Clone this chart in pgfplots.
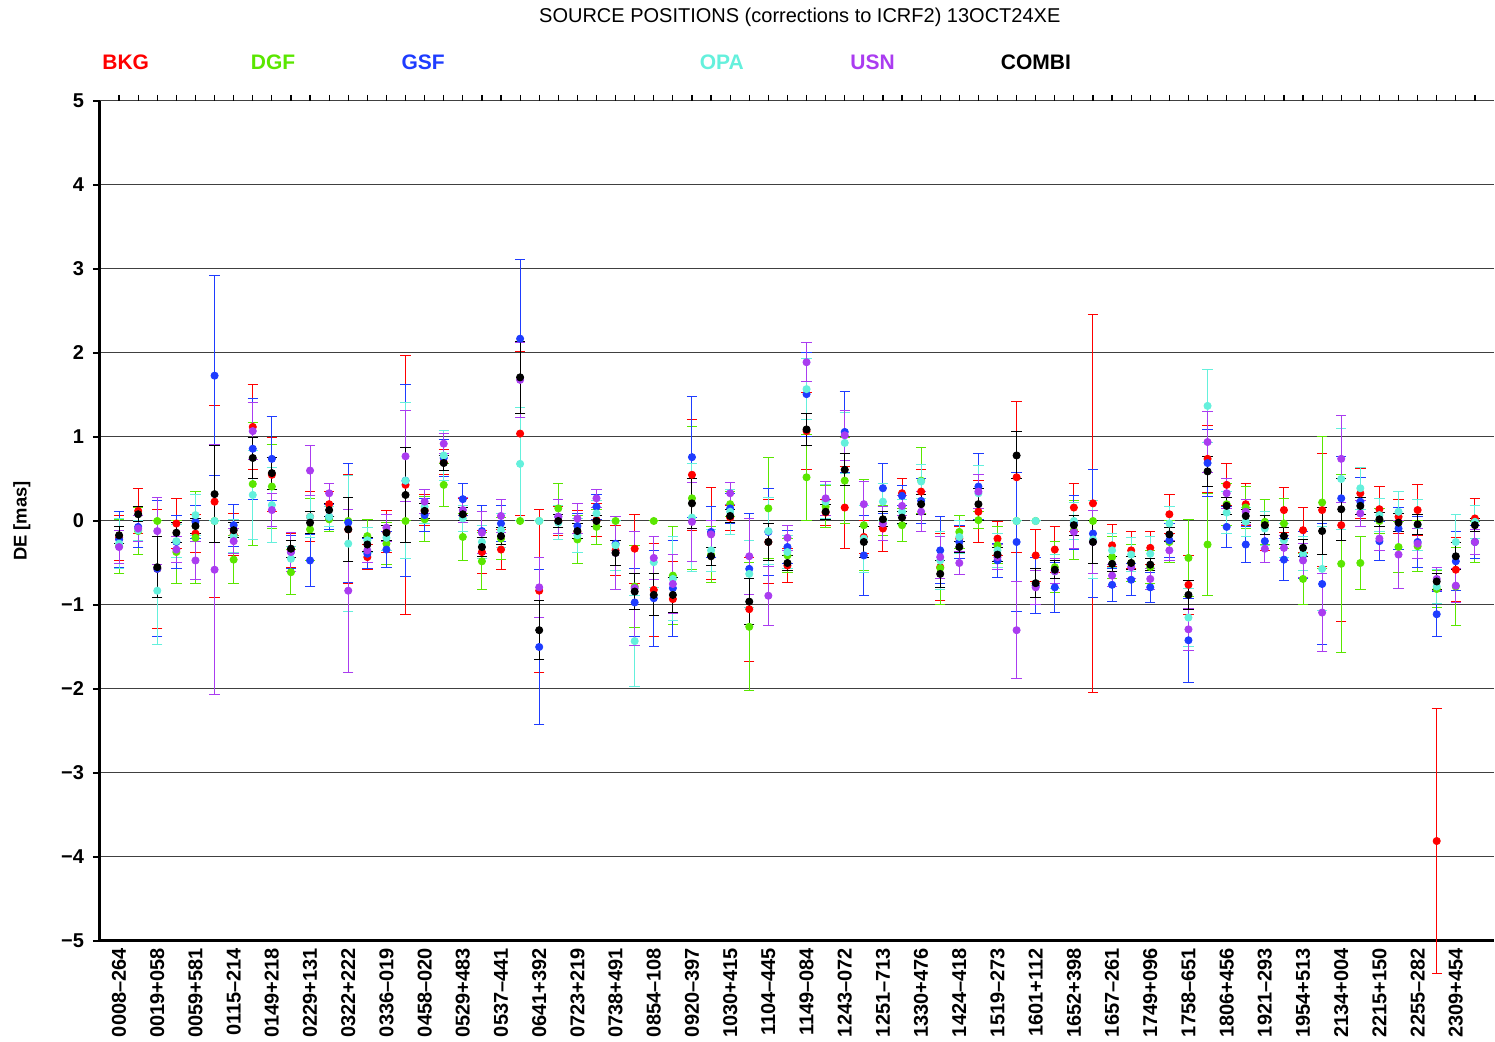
\documentclass[border=0pt]{standalone}
\usepackage{fontspec}
\setmainfont{Liberation Sans}
\usepackage{pgfplots}
\pgfplotsset{compat=1.18}
\usepackage{pgfplotstable}

\definecolor{cBKG}{RGB}{255,0,0}
\definecolor{cDGF}{RGB}{90,230,0}
\definecolor{cGSF}{RGB}{30,60,255}
\definecolor{cOPA}{RGB}{100,240,220}
\definecolor{cUSN}{RGB}{170,60,240}

% x = source index, y = correction [mas], e = formal error
\pgfplotstableread{
x y e
0 -0.20 0.27
1 0.12 0.27
2 -0.57 0.71
3 -0.03 0.30
4 -0.15 0.23
5 0.23 1.14
6 -0.16 0.25
7 1.12 0.51
8 0.55 0.44
9 -0.35 0.20
10 0.05 0.30
11 0.20 0.15
12 -0.10 0.65
13 -0.43 0.15
14 -0.13 0.25
15 0.43 1.54
16 0.13 0.18
17 0.70 0.15
18 0.07 0.20
19 -0.37 0.26
20 -0.34 0.24
21 1.04 0.98
22 -0.83 0.97
23 0.00 0.17
24 -0.13 0.25
25 0.01 0.20
26 -0.35 0.30
27 -0.33 0.41
28 -0.82 0.55
29 -0.93 0.45
30 0.55 0.66
31 -0.15 0.55
32 0.04 0.15
33 -1.05 0.62
34 -0.25 0.50
35 -0.53 0.20
36 1.07 0.46
37 0.10 0.15
38 0.16 0.49
39 -0.19 0.20
40 -0.09 0.27
41 0.33 0.18
42 0.35 0.26
43 -0.55 0.40
44 -0.21 0.15
45 0.11 0.37
46 -0.21 0.20
47 0.52 0.90
48 -0.41 0.31
49 -0.34 0.27
50 0.16 0.29
51 0.21 2.25
52 -0.29 0.25
53 -0.35 0.22
54 -0.32 0.20
55 0.08 0.23
56 -0.76 0.35
57 0.74 0.40
58 0.43 0.25
59 0.20 0.25
60 -0.05 0.30
61 0.13 0.27
62 -0.11 0.27
63 0.13 0.67
64 -0.05 1.15
65 0.33 0.30
66 0.14 0.27
67 0.05 0.20
68 0.13 0.30
69 -3.81 1.58
70 -0.58 0.38
71 0.03 0.24
}\bkg

\pgfplotstableread{
x y e
0 -0.30 0.32
1 -0.12 0.28
2 0.00 0.00
3 -0.37 0.37
4 -0.20 0.55
5 0.00 0.00
6 -0.46 0.29
7 0.44 0.73
8 0.41 0.50
9 -0.61 0.27
10 -0.10 0.37
11 0.02 0.15
12 0.00 0.00
13 -0.18 0.20
14 -0.27 0.25
15 0.00 0.00
16 0.02 0.27
17 0.43 0.26
18 -0.19 0.28
19 -0.48 0.34
20 -0.21 0.25
21 0.00 0.00
22 0.00 0.00
23 0.15 0.30
24 -0.22 0.29
25 -0.07 0.21
26 0.00 0.00
27 -0.78 0.49
28 0.00 0.00
29 -0.65 0.58
30 0.27 0.85
31 -0.40 0.33
32 0.20 0.15
33 -1.26 0.76
34 0.15 0.60
35 -0.41 0.20
36 0.52 0.51
37 0.17 0.25
38 0.48 0.51
39 -0.05 0.54
40 0.01 0.18
41 -0.05 0.20
42 0.48 0.39
43 -0.56 0.44
44 -0.13 0.20
45 0.01 0.10
46 -0.29 0.22
47 0.00 0.00
48 0.00 0.00
49 -0.55 0.30
50 -0.11 0.35
51 0.00 0.00
52 -0.43 0.25
53 -0.50 0.22
54 -0.55 0.20
55 -0.25 0.25
56 -0.44 0.46
57 -0.28 0.61
58 0.20 0.25
59 0.16 0.25
60 -0.01 0.27
61 -0.03 0.30
62 -0.69 0.30
63 0.22 0.78
64 -0.51 1.06
65 -0.50 0.31
66 0.00 0.15
67 -0.31 0.30
68 -0.30 0.30
69 -0.81 0.22
70 -0.78 0.47
71 -0.25 0.24
}\dgf

\pgfplotstableread{
x y e
0 -0.22 0.33
1 -0.07 0.24
2 -0.57 0.81
3 -0.25 0.32
4 -0.01 0.20
5 1.73 1.19
6 -0.05 0.25
7 0.86 0.60
8 0.74 0.50
9 -0.37 0.20
10 -0.47 0.31
11 0.05 0.15
12 -0.02 0.71
13 -0.39 0.18
14 -0.34 0.21
15 0.48 1.14
16 0.07 0.20
17 0.75 0.22
18 0.26 0.19
19 -0.12 0.30
20 -0.03 0.22
21 2.17 0.94
22 -1.50 0.92
23 0.05 0.20
24 -0.06 0.15
25 0.17 0.15
26 -0.27 0.32
27 -0.97 0.40
28 -0.92 0.57
29 -0.80 0.57
30 0.76 0.72
31 -0.13 0.30
32 0.15 0.18
33 -0.57 0.66
34 -0.13 0.52
35 -0.31 0.20
36 1.51 0.50
37 0.25 0.22
38 1.06 0.48
39 -0.41 0.48
40 0.39 0.30
41 0.30 0.12
42 0.24 0.27
43 -0.35 0.40
44 -0.25 0.20
45 0.41 0.39
46 -0.47 0.20
47 -0.25 0.83
48 -0.77 0.33
49 -0.79 0.30
50 -0.02 0.32
51 -0.15 0.76
52 -0.76 0.20
53 -0.70 0.19
54 -0.79 0.18
55 -0.23 0.20
56 -1.42 0.50
57 0.69 0.40
58 -0.07 0.24
59 -0.28 0.22
60 -0.24 0.25
61 -0.46 0.25
62 -0.41 0.28
63 -0.75 0.72
64 0.27 0.50
65 0.23 0.29
66 -0.24 0.23
67 -0.09 0.25
68 -0.25 0.30
69 -1.11 0.27
70 -0.48 0.35
71 -0.25 0.20
}\gsf

\pgfplotstableread{
x y e
0 -0.27 0.30
1 -0.11 0.12
2 -0.83 0.64
3 -0.24 0.20
4 0.07 0.24
5 0.00 0.00
6 -0.18 0.20
7 0.31 0.53
8 0.19 0.45
9 -0.45 0.15
10 0.05 0.25
11 0.05 0.12
12 -0.27 0.81
13 -0.23 0.15
14 -0.20 0.15
15 0.48 0.93
16 0.17 0.20
17 0.78 0.30
18 0.03 0.15
19 -0.25 0.20
20 -0.11 0.20
21 0.68 0.67
22 0.00 0.00
23 -0.02 0.20
24 -0.17 0.20
25 0.09 0.15
26 -0.29 0.30
27 -1.43 0.54
28 -0.49 0.30
29 -0.69 0.50
30 0.04 0.64
31 -0.35 0.25
32 0.11 0.27
33 -0.63 0.40
34 -0.12 0.40
35 -0.37 0.20
36 1.57 0.36
37 0.23 0.20
38 0.93 0.36
39 -0.21 0.40
40 0.23 0.22
41 0.11 0.15
42 0.47 0.20
43 -0.47 0.35
44 -0.19 0.20
45 0.33 0.33
46 -0.35 0.20
47 0.00 0.00
48 0.00 0.00
49 -0.60 0.20
50 0.00 0.22
51 -0.22 0.46
52 -0.35 0.20
53 -0.40 0.20
54 -0.39 0.20
55 -0.03 0.20
56 -1.15 0.35
57 1.37 0.43
58 0.10 0.25
59 -0.01 0.17
60 -0.09 0.20
61 -0.23 0.20
62 -0.39 0.20
63 -0.57 0.50
64 0.50 0.60
65 0.39 0.25
66 0.07 0.20
67 0.11 0.24
68 -0.05 0.30
69 -0.78 0.20
70 -0.25 0.33
71 -0.01 0.20
}\opa

\pgfplotstableread{
x y e
0 -0.31 0.20
1 -0.09 0.15
2 -0.12 0.40
3 -0.34 0.15
4 -0.47 0.23
5 -0.58 1.49
6 -0.24 0.15
7 1.07 0.34
8 0.13 0.20
9 -0.37 0.23
10 0.60 0.30
11 0.33 0.12
12 -0.83 0.97
13 -0.35 0.15
14 -0.08 0.16
15 0.77 0.54
16 0.23 0.14
17 0.92 0.12
18 0.13 0.15
19 -0.14 0.25
20 0.06 0.20
21 1.68 0.45
22 -0.79 0.36
23 0.05 0.20
24 0.03 0.18
25 0.27 0.11
26 -0.38 0.43
27 -0.80 0.68
28 -0.44 0.26
29 -0.75 0.35
30 -0.01 0.47
31 -0.16 0.16
32 0.33 0.13
33 -0.42 0.45
34 -0.89 0.35
35 -0.20 0.15
36 1.89 0.23
37 0.27 0.20
38 1.02 0.30
39 0.20 0.27
40 -0.03 0.20
41 0.18 0.12
42 0.11 0.24
43 -0.43 0.25
44 -0.50 0.14
45 0.35 0.20
46 -0.43 0.15
47 -1.30 0.58
48 -0.79 0.20
49 -0.60 0.15
50 -0.13 0.20
51 -0.25 0.38
52 -0.65 0.13
53 -0.55 0.13
54 -0.69 0.13
55 -0.35 0.12
56 -1.29 0.25
57 0.94 0.36
58 0.33 0.18
59 0.11 0.15
60 -0.33 0.17
61 -0.32 0.15
62 -0.47 0.20
63 -1.09 0.46
64 0.74 0.52
65 0.09 0.15
66 -0.21 0.14
67 -0.40 0.40
68 -0.27 0.18
69 -0.69 0.14
70 -0.77 0.20
71 -0.25 0.15
}\usn

\pgfplotstableread{
x y e
0 -0.17 0.10
1 0.08 0.09
2 -0.55 0.36
3 -0.14 0.12
4 -0.06 0.09
5 0.32 0.58
6 -0.11 0.09
7 0.75 0.24
8 0.57 0.19
9 -0.33 0.10
10 -0.02 0.13
11 0.13 0.08
12 -0.10 0.38
13 -0.28 0.08
14 -0.14 0.09
15 0.31 0.57
16 0.12 0.09
17 0.69 0.09
18 0.08 0.08
19 -0.31 0.11
20 -0.18 0.10
21 1.71 0.43
22 -1.30 0.35
23 0.00 0.08
24 -0.12 0.09
25 0.00 0.07
26 -0.38 0.15
27 -0.84 0.21
28 -0.88 0.25
29 -0.88 0.21
30 0.21 0.30
31 -0.42 0.11
32 0.06 0.08
33 -0.96 0.27
34 -0.25 0.22
35 -0.50 0.09
36 1.09 0.19
37 0.11 0.09
38 0.61 0.19
39 -0.25 0.19
40 0.02 0.09
41 0.04 0.07
42 0.20 0.12
43 -0.63 0.16
44 -0.31 0.07
45 0.20 0.19
46 -0.40 0.08
47 0.78 0.28
48 -0.74 0.17
49 -0.58 0.11
50 -0.05 0.12
51 -0.25 0.26
52 -0.51 0.09
53 -0.50 0.08
54 -0.52 0.07
55 -0.16 0.08
56 -0.88 0.17
57 0.59 0.18
58 0.18 0.10
59 0.06 0.08
60 -0.05 0.11
61 -0.18 0.10
62 -0.32 0.10
63 -0.12 0.28
64 0.14 0.37
65 0.18 0.10
66 0.02 0.08
67 -0.02 0.11
68 -0.04 0.12
69 -0.72 0.10
70 -0.42 0.16
71 -0.05 0.08
}\combi

\pgfplotsset{
    src/.style={
        only marks, mark=*, mark size=1.8pt, color=#1,
        error bars/.cd,
            y dir=both, y explicit,
            error bar style={line width=0.5pt, #1},
            error mark options={rotate=90, line width=0.5pt, mark size=2.6pt, #1},
    },
}

\begin{document}
\begin{tikzpicture}
    \useasboundingbox (-50pt,-50.5pt) rectangle (697.5pt,470.5pt);
    \begin{axis}
        [
            scale only axis,
            width=697pt, height=420pt,
            xmin=-1, xmax=72,
            ymin=-5, ymax=5,
            clip=false,
            axis x line*=bottom,
            axis y line*=left,
            axis line style={-, line width=1.5pt},
            ytick={-5,...,5},
            yticklabels={−5,−4,−3,−2,−1,0,1,2,3,4,5},
            ymajorgrids,
            grid style={black!75, line width=0.5pt},
            xtick={0,2,...,70},
            xticklabels={0008–264,0019+058,0059+581,0115–214,0149+218,0229+131,0322+222,0336–019,0458–020,0529+483,0537–441,0641+392,0723+219,0738+491,0854–108,0920–397,1030+415,1104–445,1149–084,1243–072,1251–713,1330+476,1424–418,1519–273,1601+112,1652+398,1657–261,1749+096,1758–651,1806+456,1921–293,1954+513,2134+004,2215+150,2255–282,2309+454},
            x tick style={draw=none},
            xticklabel style={rotate=90, anchor=east, font=\bfseries\fontsize{10}{12}\selectfont},
            xticklabel shift=-3.5pt,
            tick align=outside,
            y tick style={black, line width=0.7pt},
            major tick length=3.5pt,
            yticklabel style={font=\bfseries\fontsize{10}{12}\selectfont, xshift=-1pt},
            ylabel={DE [mas]},
            ylabel style={font=\bfseries\fontsize{9.2}{11}\selectfont, at={(axis description cs:-0.056,0.5)}, anchor=center},
        ]
        \addplot [src=cBKG] table [x=x, y=y, y error=e] {\bkg};
        \addplot [src=cDGF] table [x=x, y=y, y error=e] {\dgf};
        \addplot [src=cGSF] table [x=x, y=y, y error=e] {\gsf};
        \addplot [src=cOPA] table [x=x, y=y, y error=e] {\opa};
        \addplot [src=cUSN] table [x=x, y=y, y error=e] {\usn};
        \addplot [src=black] table [x=x, y=y, y error=e] {\combi};

        \node [font=\fontsize{10}{12}\selectfont] at (axis description cs:0.502,1.099) {SOURCE POSITIONS (corrections to ICRF2) 13OCT24XE};
        \node [anchor=west, inner sep=0pt, text=cBKG, font=\bfseries\fontsize{10.5}{12}\selectfont] at (axis description cs:0.0014,1.046) {BKG};
        \node [anchor=west, inner sep=0pt, text=cDGF, font=\bfseries\fontsize{10.5}{12}\selectfont] at (axis description cs:0.108,1.046) {DGF};
        \node [anchor=west, inner sep=0pt, text=cGSF, font=\bfseries\fontsize{10.5}{12}\selectfont] at (axis description cs:0.216,1.046) {GSF};
        \node [anchor=west, inner sep=0pt, text=cOPA, font=\bfseries\fontsize{10.5}{12}\selectfont] at (axis description cs:0.430,1.046) {OPA};
        \node [anchor=west, inner sep=0pt, text=cUSN, font=\bfseries\fontsize{10.5}{12}\selectfont] at (axis description cs:0.538,1.046) {USN};
        \node [anchor=west, inner sep=0pt, text=black, font=\bfseries\fontsize{10.5}{12}\selectfont] at (axis description cs:0.646,1.046) {COMBI};
    \end{axis}
    % ticks for every source along the top edge
    \begin{axis}
        [
            scale only axis,
            width=697pt, height=420pt,
            xmin=-1, xmax=72,
            ymin=-5, ymax=5,
            axis x line*=top,
            axis y line=none,
            axis line style={draw=none},
            xtick={0,...,71},
            xticklabels={},
            tick align=outside,
            x tick style={black, line width=0.6pt},
            major tick length=3pt,
        ]
    \end{axis}
\end{tikzpicture}
\end{document}
